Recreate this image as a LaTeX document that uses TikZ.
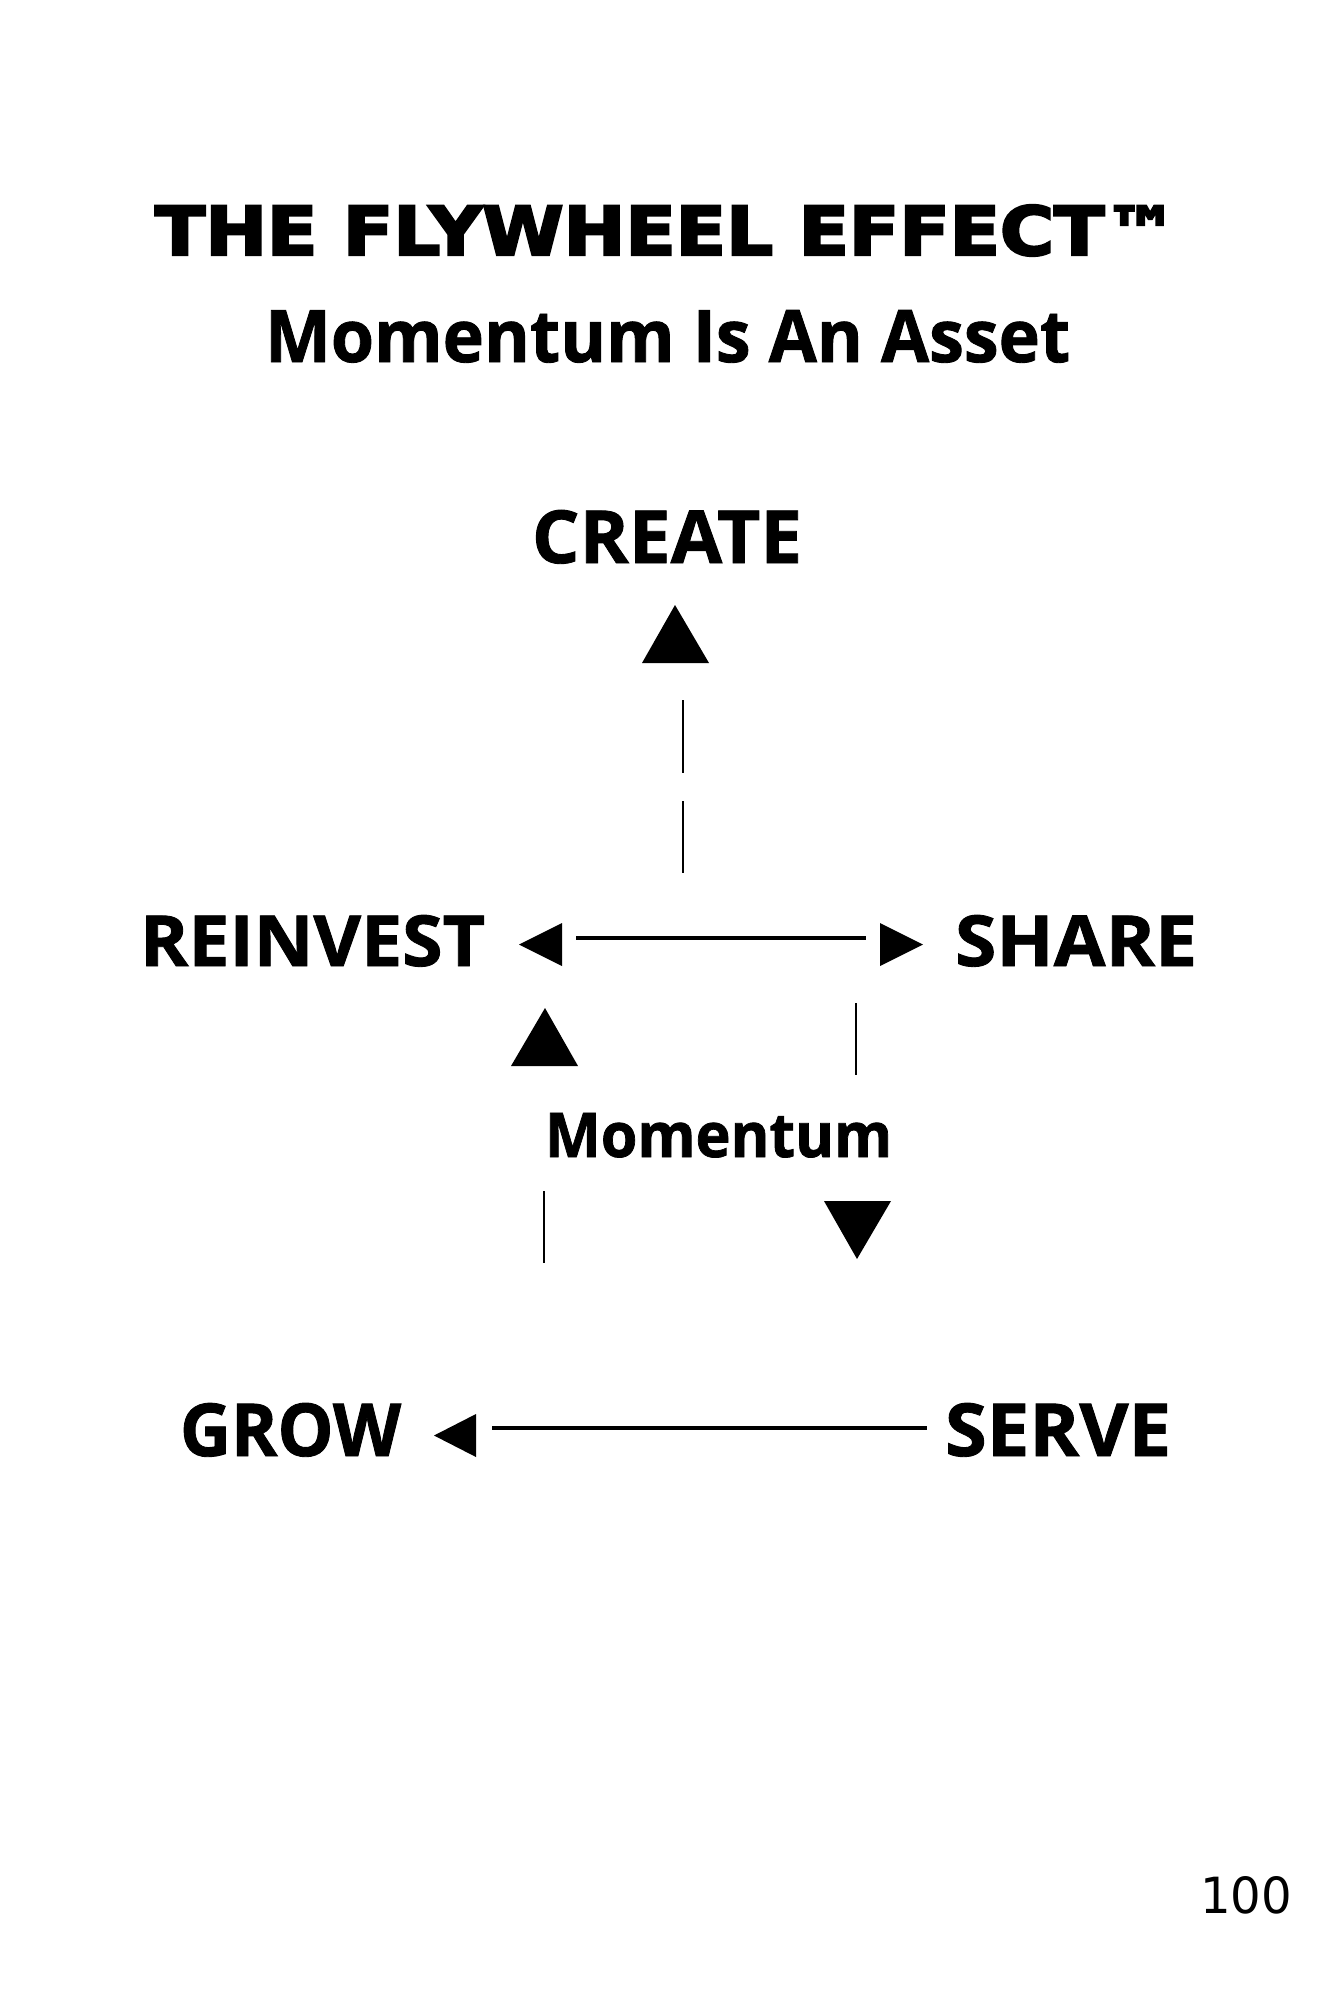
\documentclass[tikz,border=0pt]{standalone}
\usepackage{fontspec}
\usepackage{graphicx}
\setmainfont{Open Sans}[BoldFeatures={FakeBold=1.2}]
\newfontfamily\titlefont{DejaVu Sans}[BoldFeatures={FakeBold=3.5}]
\newfontfamily\numfont{DejaVu Sans}
\newcommand\fitto[3]{\resizebox{#1pt}{#2pt}{#3}}
\begin{document}
\begin{tikzpicture}[x=1pt,y=-1pt,
  lbl/.style={anchor=base west,inner sep=0pt,outer sep=0pt},
  hlink/.style={line width=3.2pt},
  vlink/.style={line width=2.8pt},
  tri/.style={fill=black}]
\useasboundingbox (0,0) rectangle (1333,2000);
\fill[white] (0,0) rectangle (1333,2000);
% texts
\node[lbl] (title) at (155,255) {\fitto{1023}{50}{\titlefont\bfseries THE FLYWHEEL EFFECT™}};
\node[lbl] (subtitle) at (265,362) {\fitto{805}{52}{\bfseries Momentum Is An Asset}};
\node[lbl] (create) at (532,563) {\fitto{270}{53}{\bfseries CREATE}};
\node[lbl] (reinvest) at (140,966) {\fitto{345}{51}{\bfseries REINVEST}};
\node[lbl] (share) at (955,966) {\fitto{242}{51}{\bfseries SHARE}};
\node[lbl] (momentum) at (545,1157) {\fitto{347}{44}{\bfseries Momentum}};
\node[lbl] (grow) at (180,1456) {\fitto{221}{53}{\bfseries GROW}};
\node[lbl] (serve) at (945,1456) {\fitto{226}{53}{\bfseries SERVE}};
\node[lbl] (page) at (1200,1913) {\fitto{92}{37}{\numfont 100}};
% arrow heads
\coordinate (tCreate) at (675,605);
\fill[tri] (tCreate) -- (709,663) -- (642,663) -- cycle;
\coordinate (tReinvest) at (519,944.5);
\fill[tri] (tReinvest) -- (562,923) -- (562,966) -- cycle;
\coordinate (tShare) at (923,944.5);
\fill[tri] (tShare) -- (880,923) -- (880,966) -- cycle;
\coordinate (tUp) at (545,1008);
\fill[tri] (tUp) -- (578,1066) -- (511,1066) -- cycle;
\coordinate (tDown) at (857,1259);
\fill[tri] (tDown) -- (824,1201) -- (891,1201) -- cycle;
\coordinate (tGrow) at (434,1435.5);
\fill[tri] (tGrow) -- (476,1414) -- (476,1457) -- cycle;
% connectors
\coordinate (c1a) at (683,700); \coordinate (c1b) at (683,773);
\coordinate (c2a) at (683,801); \coordinate (c2b) at (683,873);
\draw[vlink] (c1a) -- (c1b);
\draw[vlink] (c2a) -- (c2b);
\coordinate (h1a) at (576,938); \coordinate (h1b) at (866,938);
\draw[hlink] (h1a) -- (h1b);
\coordinate (r1a) at (856,1003); \coordinate (r1b) at (856,1075);
\draw[vlink] (r1a) -- (r1b);
\coordinate (l1a) at (544,1191); \coordinate (l1b) at (544,1263);
\draw[vlink] (l1a) -- (l1b);
\coordinate (h2a) at (492,1428); \coordinate (h2b) at (927,1428);
\draw[hlink] (h2a) -- (h2b);
\end{tikzpicture}
\end{document}
